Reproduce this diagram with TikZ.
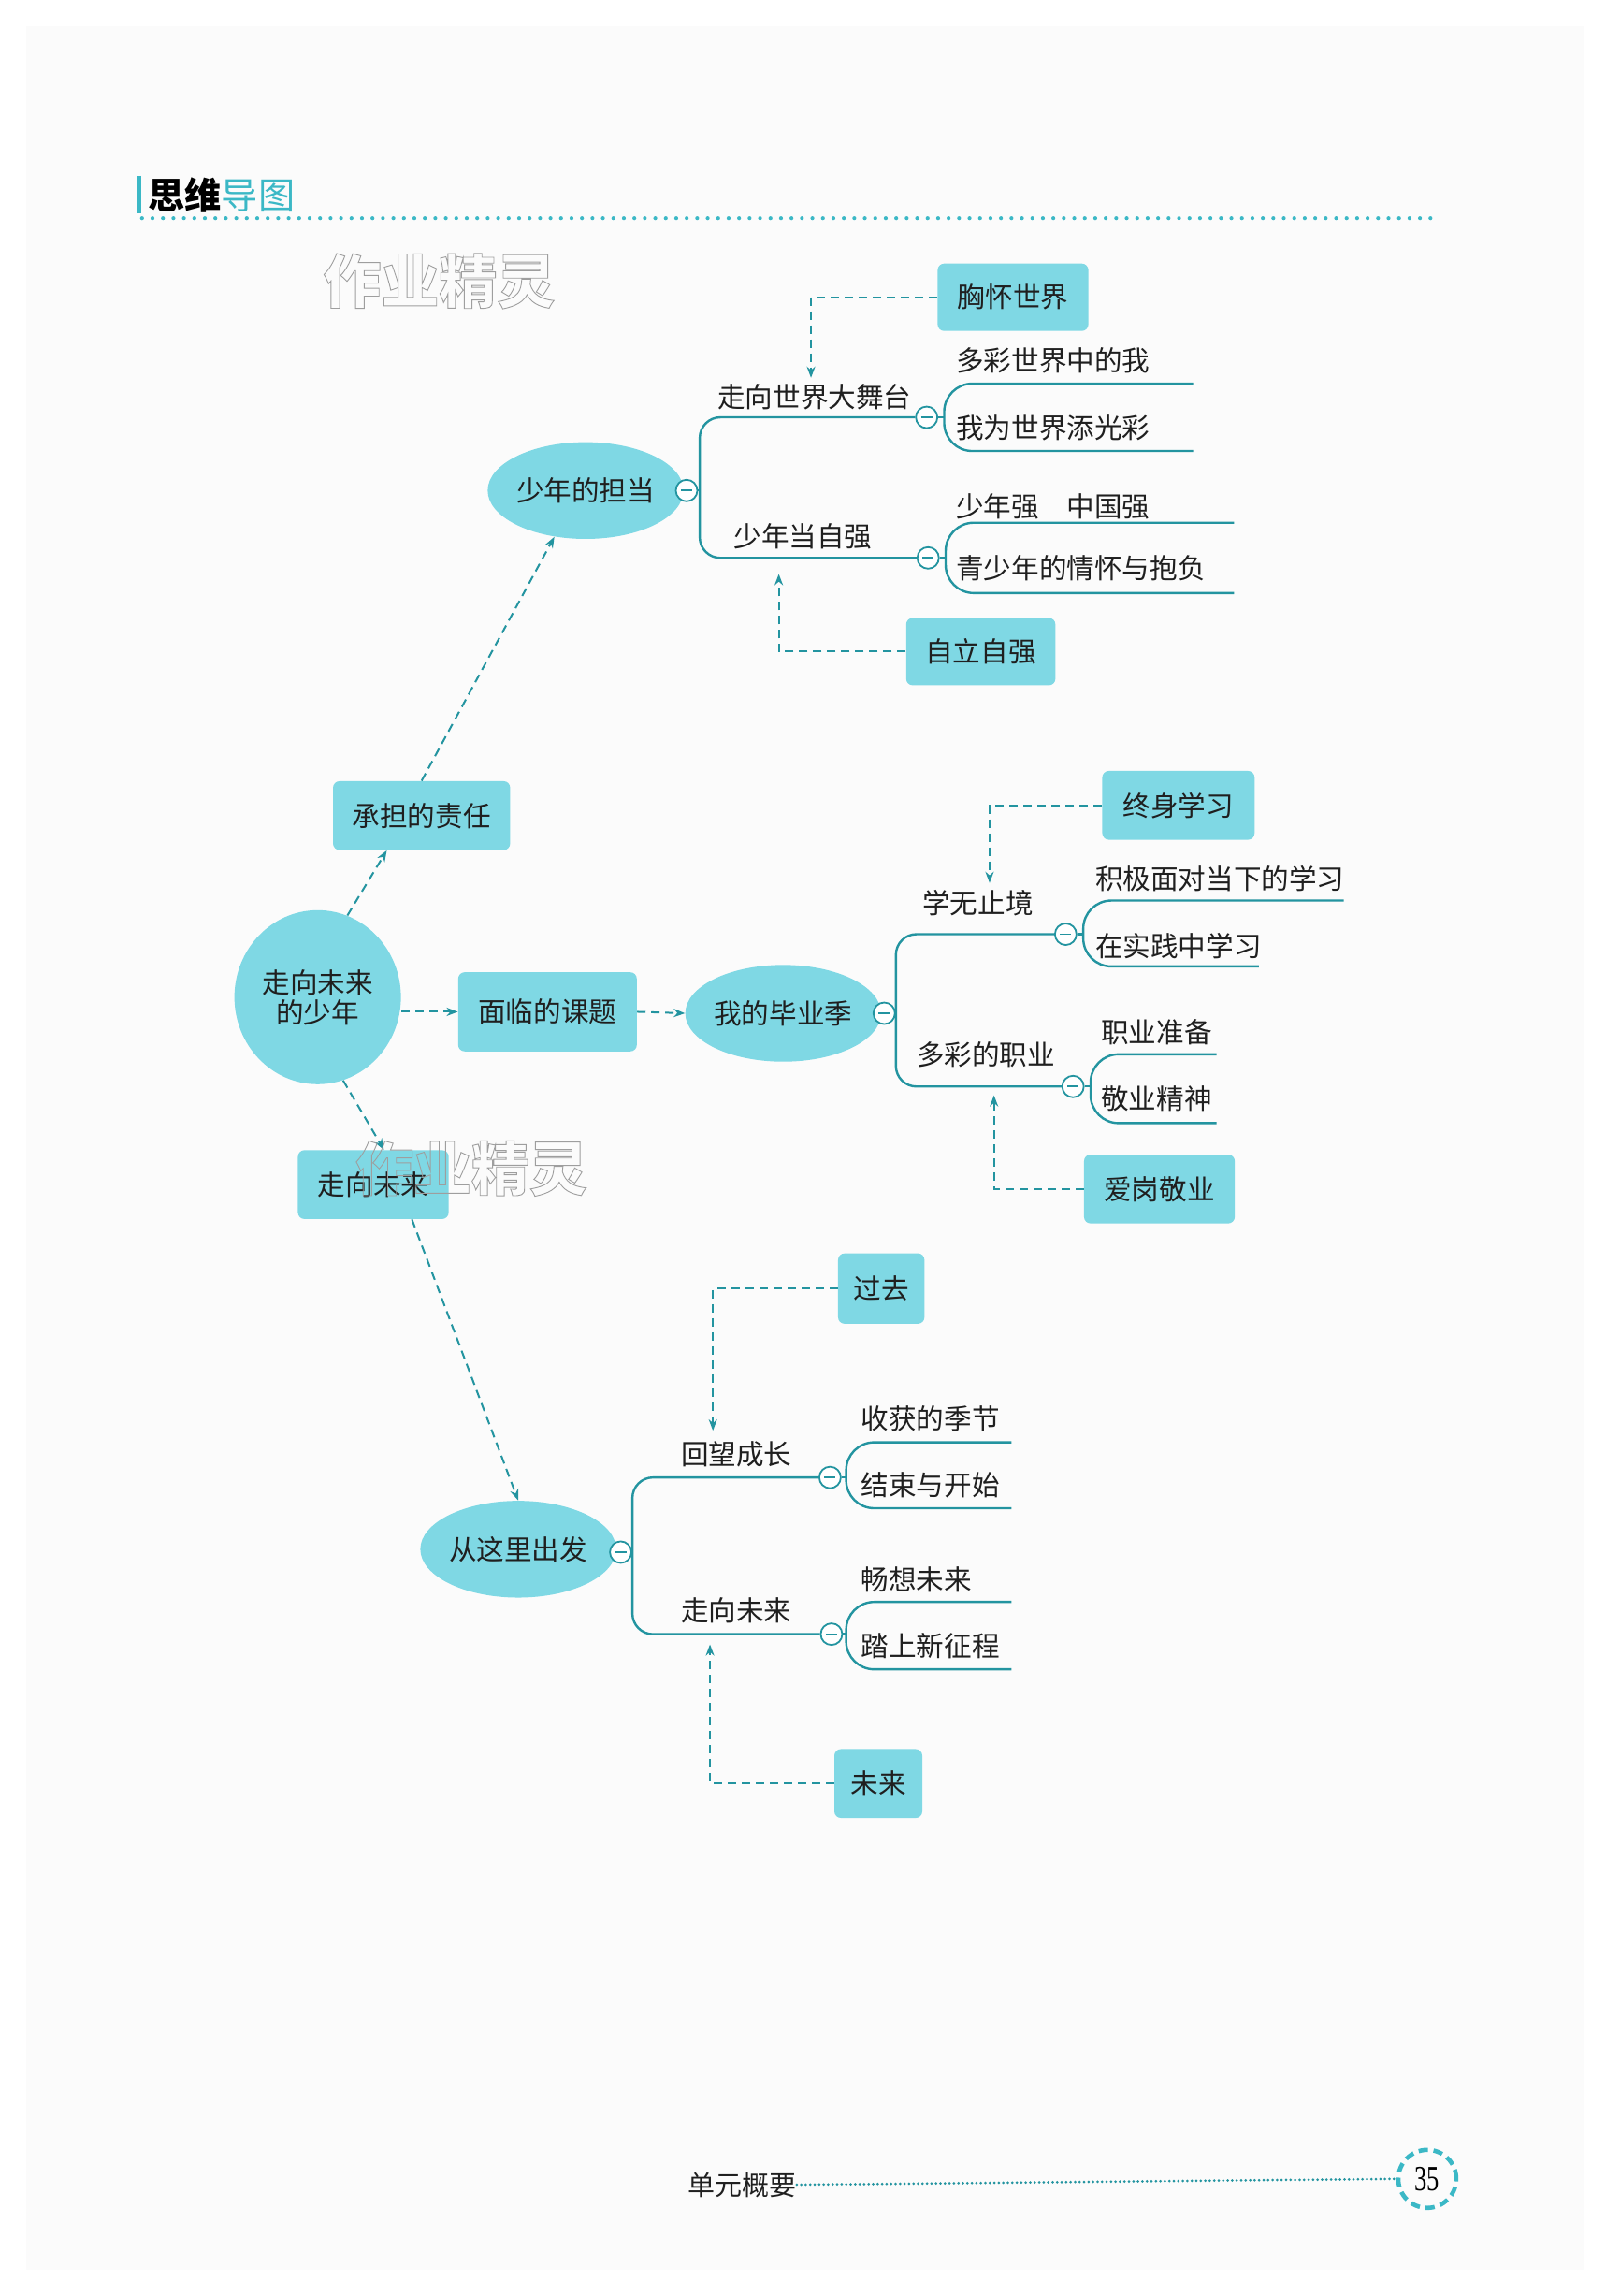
\documentclass[tikz,border=0pt]{standalone}
\usepackage{fontspec}
\setmainfont{Noto Sans CJK SC}
\newfontfamily\numfont{Liberation Serif}
\usetikzlibrary{shapes.geometric,arrows.meta}
\definecolor{boxc}{HTML}{7FD8E4}
\definecolor{linec}{HTML}{2394A0}
\definecolor{headc}{HTML}{3BB8C6}
\definecolor{pagec}{HTML}{FBFBFB}
\newcommand\outl[1]{\special{pdf:literal direct q 1 Tr 0.45 w 0.62 G}#1\special{pdf:literal direct Q}}
\begin{document}
\begin{tikzpicture}[x=0.7826pt,y=-0.7826pt,
  txt/.style={font=\fontsize{14.8pt}{17pt}\selectfont, inner sep=0pt, text=black!88},
  box/.style={txt, fill=boxc, rounded corners=3.5pt},
  oval/.style={txt, ellipse, fill=boxc, inner sep=0pt},
  lbl/.style={txt, anchor=west},
  mn/.style={circle, draw=linec, fill=white, line width=0.9pt, minimum size=11.5pt, inner sep=0pt,
    path picture={\draw[linec, line width=0.9pt] ([xshift=-3pt]path picture bounding box.center) -- ([xshift=3pt]path picture bounding box.center);}},
  br/.style={draw=linec, line width=1.2pt},
  darr/.style={draw=linec, line width=1pt, dash pattern=on 4.5pt off 3pt, -{Stealth[length=6pt,width=4.5pt]}},
  wm/.style={font=\fontsize{31pt}{32pt}\selectfont\bfseries, inner sep=0pt}
]
% page
\fill[white] (0,0) rectangle (1097,1568);
\fill[pagec] (18,18) rectangle (1082,1550);
\useasboundingbox (0,0) rectangle (1097,1568);

% header
\draw[headc, line width=2pt] (95,120) -- (95,146);
\node[anchor=west, inner sep=0pt, font=\fontsize{19.6pt}{20pt}\selectfont] (title) at (101,133) {\textbf{思维}\textcolor{headc}{导图}};
\draw[headc, line width=2.1pt, dash pattern=on 0pt off 5.6pt, line cap=round] (97,149) -- (983,149);

% watermark 1
\node[wm] (wm1) at (300,192) {\outl{作业精灵}};

% ---------- main nodes ----------
\node[oval, minimum width=89pt, minimum height=93pt, align=center] (core) at (217,681) {走向未来\\[-1pt]的少年};
\node[box, minimum width=94.7pt, minimum height=36.8pt] (cddzr) at (288,557) {承担的责任};
\node[box, minimum width=95.5pt, minimum height=42.3pt] (mlkt) at (374,691) {面临的课题};
\node[box, minimum width=80.6pt, minimum height=36.8pt] (zxwlb) at (255,809) {走向未来};

\node[oval, minimum width=98.6pt, minimum height=51.7pt] (snddd) at (400,335) {少年的担当};
\node[oval, minimum width=100pt, minimum height=51.7pt] (wdbyj) at (535,692) {我的毕业季};
\node[oval, minimum width=98.6pt, minimum height=51.7pt] (cclfz) at (354,1058) {从这里出发};

% main connectors
\draw[darr] (core.70) -- (cddzr.225);
\draw[darr] (cddzr.north) -- (snddd.236);
\draw[darr] (mlkt.west -| core.east) -- (mlkt.west);
\draw[darr] (mlkt.east) -- (wdbyj.west);
\draw[darr] (core.287) -- (zxwlb.73);
\draw[darr] (zxwlb.318) -- (cclfz.north);

% ---------- block: 少年的担当 ----------
\node[mn] (m1) at (469,335) {};
\node[mn] (m2) at (633,285) {};
\node[mn] (m3) at (634,381) {};
\coordinate (ta) at (478,335);
\draw[br] (m1.east) -- (ta);
\draw[br, rounded corners=11pt] (m2.west) -- (m2.west -| ta) -- (m3.west -| ta) -- (m3.west);
\node[lbl] (t1) at (490,271) {走向世界大舞台};
\node[lbl] (t2) at (501,366) {少年当自强};
% leaves 1
\coordinate (b1) at (645,285);
\coordinate (e1) at (815,262);
\coordinate (e2) at (815,308);
\draw[br] (m2.east) -- (b1);
\draw[br, rounded corners=15pt] (e1) -- (e1 -| b1) -- (e2 -| b1) -- (e2);
\node[lbl] (l1) at (653,246) {多彩世界中的我};
\node[lbl] (l2) at (653,292) {我为世界添光彩};
% leaves 2
\coordinate (b2) at (646,381);
\coordinate (e3) at (843,357);
\coordinate (e4) at (843,405);
\draw[br] (m3.east) -- (b2);
\draw[br, rounded corners=15pt] (e3) -- (e3 -| b2) -- (e4 -| b2) -- (e4);
\node[lbl] (l3) at (653,346) {少年强　中国强};
\node[lbl] (l4) at (653,388) {青少年的情怀与抱负};
% side boxes
\node[box, minimum width=80.6pt, minimum height=36pt] (xhsj) at (692,203) {胸怀世界};
\node[box, minimum width=79.8pt, minimum height=36pt] (zlzq) at (670,445) {自立自强};
\coordinate (a1) at (554,258);
\coordinate (a2) at (532,392);
\draw[darr] (xhsj.west) -| (a1);
\draw[darr] (zlzq.west) -| (a2);

% ---------- block: 我的毕业季 ----------
\node[mn] (m4) at (604,692) {};
\node[mn] (m5) at (728,638) {};
\node[mn] (m6) at (733,742) {};
\coordinate (tb) at (612,692);
\draw[br] (m4.east) -- (tb);
\draw[br, rounded corners=11pt] (m5.west) -- (m5.west -| tb) -- (m6.west -| tb) -- (m6.west);
\node[lbl] (t3) at (630,617) {学无止境};
\node[lbl] (t4) at (626,720) {多彩的职业};
% leaves 3
\coordinate (b3) at (740,638);
\coordinate (e5) at (918,615);
\coordinate (e6) at (860,660);
\draw[br] (m5.east) -- (b3);
\draw[br, rounded corners=15pt] (e5) -- (e5 -| b3) -- (e6 -| b3) -- (e6);
\node[lbl] (l5) at (748,600) {积极面对当下的学习};
\node[lbl] (l6) at (748,646) {在实践中学习};
% leaves 4
\coordinate (b4) at (745,742);
\coordinate (e7) at (831,720);
\coordinate (e8) at (831,767);
\draw[br] (m6.east) -- (b4);
\draw[br, rounded corners=15pt] (e7) -- (e7 -| b4) -- (e8 -| b4) -- (e8);
\node[lbl] (l7) at (752,705) {职业准备};
\node[lbl] (l8) at (752,750) {敬业精神};
% side boxes
\node[box, minimum width=81.4pt, minimum height=36.8pt] (zsxx) at (805,550) {终身学习};
\node[box, minimum width=80.6pt, minimum height=36.8pt] (agjy) at (792,812) {爱岗敬业};
\coordinate (a3) at (676,603);
\coordinate (a4) at (679,748);
\draw[darr] (zsxx.west) -| (a3);
\draw[darr] (agjy.west) -| (a4);

% ---------- block: 从这里出发 ----------
\node[mn] (m7) at (424,1060) {};
\node[mn] (m8) at (567,1009) {};
\node[mn] (m9) at (568,1116) {};
\coordinate (tc) at (432,1060);
\draw[br] (m7.east) -- (tc);
\draw[br, rounded corners=11pt] (m8.west) -- (m8.west -| tc) -- (m9.west -| tc) -- (m9.west);
\node[lbl] (t5) at (465,993) {回望成长};
\node[lbl] (t6) at (465,1100) {走向未来};
% leaves 5
\coordinate (b5) at (578,1009);
\coordinate (e9) at (691,985);
\coordinate (e10) at (691,1030);
\draw[br] (m8.east) -- (b5);
\draw[br, rounded corners=15pt] (e9) -- (e9 -| b5) -- (e10 -| b5) -- (e10);
\node[lbl] (l9) at (588,969) {收获的季节};
\node[lbl] (l10) at (588,1014) {结束与开始};
% leaves 6
\coordinate (b6) at (578,1116);
\coordinate (e11) at (691,1094);
\coordinate (e12) at (691,1140);
\draw[br] (m9.east) -- (b6);
\draw[br, rounded corners=15pt] (e11) -- (e11 -| b6) -- (e12 -| b6) -- (e12);
\node[lbl] (l11) at (588,1079) {畅想未来};
\node[lbl] (l12) at (588,1124) {踏上新征程};
% side boxes
\node[box, minimum width=46.2pt, minimum height=37.6pt] (gq) at (602,880) {过去};
\node[box, minimum width=47pt, minimum height=36.8pt] (wl) at (600,1218) {未来};
\coordinate (a5) at (487,977);
\coordinate (a6) at (485,1123);
\draw[darr] (gq.west) -| (a5);
\draw[darr] (wl.west) -| (a6);

% watermark 2
\node[wm] (wm2) at (322,798) {\outl{作业精灵}};

% ---------- footer ----------
\node[txt, font=\fontsize{14.5pt}{15pt}\selectfont] (dy) at (507,1492) {单元概要};
\node[circle, draw=headc, line width=2.3pt, dash pattern=on 5pt off 3pt, minimum size=31pt, inner sep=0pt] (pg) at (975,1488) {\numfont\fontsize{19pt}{19pt}\selectfont\scalebox{0.7}[1]{35}};
\draw[linec, line width=1.5pt, dash pattern=on 0pt off 2.4pt, line cap=round] (dy.east) -- (pg.west);
\end{tikzpicture}
\end{document}
